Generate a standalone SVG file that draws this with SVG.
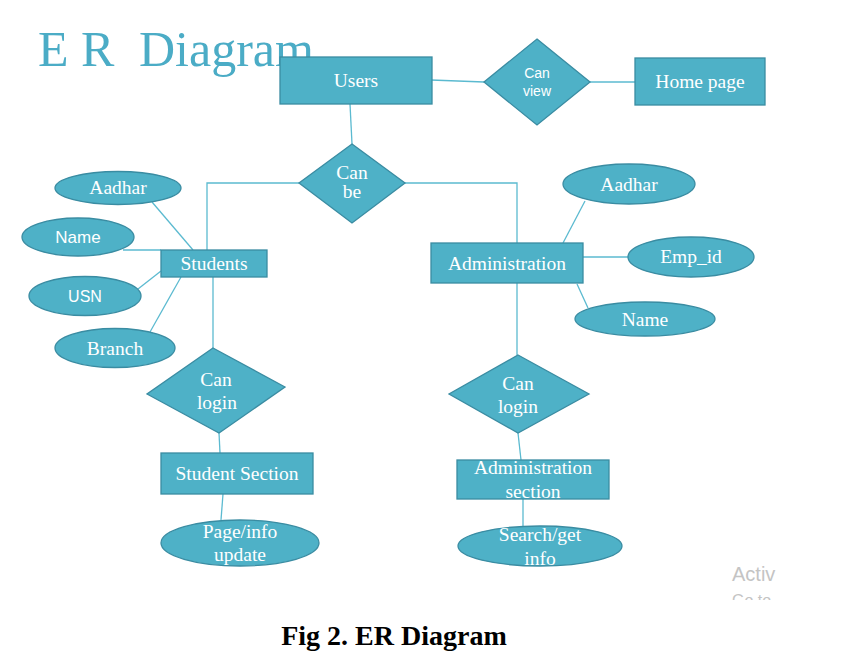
<svg xmlns="http://www.w3.org/2000/svg" width="853" height="672" viewBox="0 0 853 672">
<style>
.shape{fill:#4EB1C7;stroke:#3A8CA2;stroke-width:1.3}
.conn line,.conn polyline{stroke:#5BBAD0;stroke-width:1.3;fill:none}
.t{font-family:"Liberation Serif","Times New Roman",serif;font-size:19.5px;fill:#ffffff;text-anchor:middle}
.s{font-family:"Liberation Sans",Arial,sans-serif;fill:#ffffff;text-anchor:middle}
</style>
<defs>
<clipPath id="wm"><rect x="700" y="555" width="77" height="45"/></clipPath>
</defs>
<rect width="853" height="672" fill="#ffffff"/>
<text x="38" y="66" font-family="'Liberation Serif','Times New Roman',serif" font-size="50" fill="#4BACC6">E R<tspan x="139">Diagram</tspan></text>

<g class="conn">
<line x1="431" y1="80" x2="484" y2="82"/>
<line x1="590" y1="82" x2="635" y2="82"/>
<line x1="350" y1="104" x2="352" y2="144"/>
<polyline points="299,183 207,183 207,250"/>
<polyline points="405,183 517,183 517,243"/>
<line x1="152" y1="202" x2="193" y2="250"/>
<line x1="123" y1="250" x2="161" y2="250"/>
<line x1="138" y1="289" x2="161" y2="271"/>
<line x1="150" y1="332" x2="181" y2="277"/>
<line x1="213" y1="277" x2="213" y2="348"/>
<line x1="219" y1="433" x2="220" y2="453"/>
<line x1="223" y1="494" x2="221" y2="520"/>
<line x1="585" y1="201" x2="563" y2="243"/>
<line x1="583" y1="257" x2="628" y2="257"/>
<line x1="577" y1="284" x2="588" y2="308"/>
<line x1="517" y1="283" x2="517" y2="355"/>
<line x1="518" y1="433" x2="521" y2="460"/>
<line x1="523" y1="499" x2="523" y2="527"/>
</g>

<g id="users"><rect class="shape" x="280" y="57" width="152" height="47"/><text class="t" x="356" y="87">Users</text></g>
<g id="can-view"><polygon class="shape" points="537,39 590,82 537,125 484,82"/><text class="s" font-size="14" x="537" y="78">Can</text><text class="s" font-size="14" x="537" y="96">view</text></g>
<g id="home-page"><rect class="shape" x="635" y="58" width="130" height="47"/><text class="t" font-size="16" x="700" y="88">Home page</text></g>
<g id="can-be"><polygon class="shape" points="352,144 405,183 352,223 299,183"/><text class="t" font-size="15" x="352" y="179">Can</text><text class="t" font-size="15" x="352" y="198">be</text></g>

<g id="students"><rect class="shape" x="161" y="250" width="106" height="27"/><text class="t" x="214" y="270">Students</text></g>
<g id="aadhar-s"><ellipse class="shape" cx="118" cy="188" rx="63" ry="16.5"/><text class="t" x="118" y="194">Aadhar</text></g>
<g id="name-s"><ellipse class="shape" cx="78" cy="237" rx="56" ry="19"/><text class="s" font-size="17" x="78" y="243">Name</text></g>
<g id="usn"><ellipse class="shape" cx="85" cy="296" rx="56" ry="19.5"/><text class="s" font-size="16" x="85" y="302">USN</text></g>
<g id="branch"><ellipse class="shape" cx="115" cy="348" rx="60" ry="19.5"/><text class="t" x="115" y="355">Branch</text></g>
<g id="can-login-s"><polygon class="shape" points="213,348 285,387 219,433 147,394"/><text class="t" x="216" y="386">Can</text><text class="t" x="217" y="409">login</text></g>
<g id="student-section"><rect class="shape" x="161" y="453" width="152" height="41"/><text class="t" x="237" y="480">Student Section</text></g>
<g id="page-info"><ellipse class="shape" cx="240" cy="543" rx="79" ry="23"/><text class="t" x="240" y="538">Page/info</text><text class="t" x="240" y="561">update</text></g>

<g id="administration"><rect class="shape" x="431" y="243" width="152" height="40"/><text class="t" x="507" y="270">Administration</text></g>
<g id="aadhar-a"><ellipse class="shape" cx="629" cy="184" rx="66" ry="20"/><text class="t" x="629" y="191">Aadhar</text></g>
<g id="emp-id"><ellipse class="shape" cx="691" cy="257" rx="63" ry="20"/><text class="t" x="691" y="263">Emp_id</text></g>
<g id="name-a"><ellipse class="shape" cx="645" cy="319" rx="70" ry="17"/><text class="t" x="645" y="326">Name</text></g>
<g id="can-login-a"><polygon class="shape" points="518,355 589,394 518,433 449,394"/><text class="t" x="518" y="390">Can</text><text class="t" x="518" y="413">login</text></g>
<g id="admin-section"><rect class="shape" x="457" y="460" width="152" height="39"/><text class="t" x="533" y="474">Administration</text><text class="t" x="533" y="498">section</text></g>
<g id="search-info"><ellipse class="shape" cx="540" cy="546" rx="82" ry="20"/><text class="t" x="540" y="541">Search/get</text><text class="t" x="540" y="565">info</text></g>

<g clip-path="url(#wm)" font-family="'Liberation Sans',Arial,sans-serif" fill="#C4C4C4">
<text x="732" y="581" font-size="20">Activ</text>
<text x="732" y="606" font-size="16">Go to</text>
</g>
<text x="394" y="645" text-anchor="middle" font-family="'Liberation Serif','Times New Roman',serif" font-weight="bold" font-size="28" fill="#000000">Fig 2. ER Diagram</text>
</svg>
